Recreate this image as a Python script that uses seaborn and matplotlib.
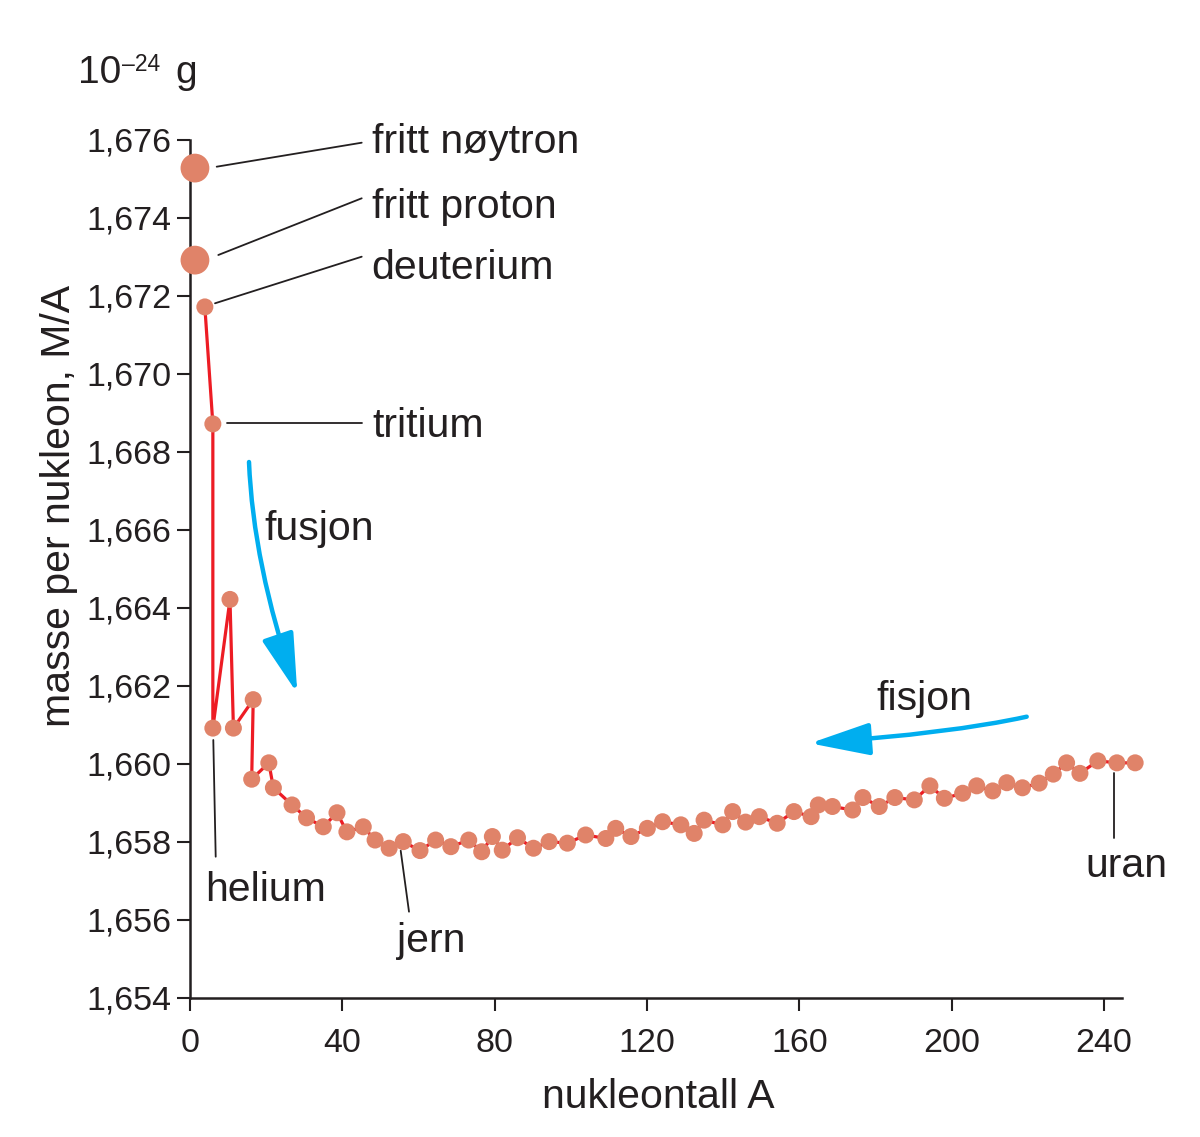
import numpy as np
import pandas as pd
import seaborn as sns
import matplotlib.pyplot as plt
from matplotlib.patches import FancyArrowPatch, ArrowStyle
from matplotlib.path import Path
from matplotlib.lines import Line2D

# mass per nucleon (10^-24 g) against nucleon number A
free_A = [1.3, 1.3]
free_mass = [1.67528, 1.67292]

chain_A = [3.9, 6.0, 6.0, 10.5, 11.4, 16.6, 16.2, 20.7, 21.9, 26.8,
           30.6, 35.0, 38.6, 41.2, 45.5, 48.6, 52.3, 56.0, 60.4, 64.5,
           68.5, 73.2, 76.6, 79.4, 82.0, 86.0, 90.2, 94.3, 99.1, 103.9,
           109.2, 111.8, 115.8, 120.1, 124.1, 128.9, 132.4, 135.0, 139.9, 142.5,
           145.9, 149.5, 154.2, 158.6, 163.1, 165.0, 168.7, 174.0, 176.7, 181.0,
           185.1, 190.2, 194.3, 198.1, 202.9, 206.6, 210.8, 214.5, 218.6, 223.0,
           226.7, 230.2, 233.7, 238.4, 243.4, 248.2]
chain_mass = [1.67172, 1.66872, 1.66092, 1.66422, 1.66092, 1.66165, 1.65961, 1.66003, 1.65939, 1.65895,
              1.65862, 1.65839, 1.65875, 1.65826, 1.65839, 1.65805, 1.65784, 1.65801, 1.65778, 1.65805,
              1.65788, 1.65805, 1.65775, 1.65814, 1.65779, 1.65811, 1.65784, 1.65801, 1.65797, 1.65818,
              1.65809, 1.65835, 1.65814, 1.65835, 1.65852, 1.65844, 1.65822, 1.65856, 1.65844, 1.65878,
              1.65851, 1.65865, 1.65848, 1.65878, 1.65865, 1.65895, 1.65891, 1.65882, 1.65914, 1.65891,
              1.65914, 1.65908, 1.65944, 1.65912, 1.65925, 1.65944, 1.65931, 1.65952, 1.65939, 1.65951,
              1.65974, 1.66003, 1.65976, 1.66008, 1.66003, 1.66003]

x_ticks = [0, 40, 80, 120, 160, 200, 240]
y_ticks = [1.654, 1.656, 1.658, 1.660, 1.662, 1.664, 1.666, 1.668, 1.670, 1.672, 1.674, 1.676]
y_tick_labels = ["1,654", "1,656", "1,658", "1,660", "1,662", "1,664",
                 "1,666", "1,668", "1,670", "1,672", "1,674", "1,676"]

RED = "#ED1C24"
DOT = "#E08369"
BLUE = "#00AEEF"
DARK = "#231F20"

W, H = 1200, 1137


def fx(x):
    return x / W


def fy(y):
    return 1 - y / H


sns.set_style("ticks")
plt.rcParams['font.family'] = ['Liberation Sans', 'DejaVu Sans']
plt.rcParams['text.color'] = DARK

fig = plt.figure(figsize=(12, 11.37), dpi=100)
ax = fig.add_axes([fx(190), fy(998), (1122 - 190) / W, (998 - 140) / H])

chain = pd.DataFrame({"A": chain_A, "M": chain_mass})
free = pd.DataFrame({"A": free_A, "M": free_mass})

sns.lineplot(data=chain, x="A", y="M", sort=False, estimator=None,
             color=RED, lw=2.3, ax=ax, clip_on=False, zorder=2)
sns.scatterplot(data=chain, x="A", y="M", s=150, color=DOT, edgecolor="none",
                ax=ax, clip_on=False, zorder=3)
sns.scatterplot(data=free, x="A", y="M", s=430, color=DOT, edgecolor="none",
                ax=ax, clip_on=False, zorder=3)

ax.set_xlim(0, 932 / 3.808)
ax.set_ylim(1.654, 1.676)
ax.set_xticks(x_ticks)
ax.set_yticks(y_ticks, y_tick_labels)
ax.set_xlabel("")
ax.set_ylabel("")
sns.despine(ax=ax)
for side in ["left", "bottom"]:
    ax.spines[side].set_linewidth(1.8)
    ax.spines[side].set_color(DARK)
ax.tick_params(direction="out", length=9.5, width=1.5, labelsize=24.5,
               colors=DARK, labelcolor=DARK)
ax.tick_params(axis="x", pad=12)
ax.tick_params(axis="y", pad=4)

# axis titles
fig.text(fx(658), fy(1108), "nukleontall A", fontsize=29.5, ha="center", va="baseline")
fig.text(fx(59), fy(506), "masse per nukleon, M/A", fontsize=29.5, rotation=90,
         ha="center", va="center")
fig.text(fx(77.5), fy(83.3), "10", fontsize=28, ha="left", va="baseline")
fig.text(fx(121.5), fy(71), "–24", fontsize=16.5, ha="left", va="baseline")
fig.text(fx(175.5), fy(83.3), "g", fontsize=28, ha="left", va="baseline")

# labels with leader lines
labels = [("fritt nøytron", 372, 153), ("fritt proton", 372, 218),
          ("deuterium", 371, 279), ("tritium", 372, 437),
          ("helium", 205.5, 901), ("jern", 397, 952), ("uran", 1085, 877),
          ("fusjon", 264, 540), ("fisjon", 876, 710)]
for txt, x, y in labels:
    fig.text(fx(x), fy(y), txt, fontsize=29.5, ha="left", va="baseline")

leaders = [((216.7, 166.7), (361.7, 142.7)), ((218.3, 255), (361.7, 198.3)),
           ((215, 303.3), (361.7, 256.7)), ((226.7, 423.3), (361.7, 423.3)),
           ((213.3, 740), (215.7, 856.7)), ((400.7, 850.7), (409, 911.7)),
           ((1114.3, 773.3), (1114.3, 838.3))]
for (x0, y0), (x1, y1) in leaders:
    fig.add_artist(Line2D([fx(x0), fx(x1)], [fy(y0), fy(y1)],
                          transform=fig.transFigure, color=DARK, lw=1.3))

# curved arrows
arrows = [[(249, 462), (253, 563), (297.3, 693.3)],
          [(1026.7, 716.7), (950.7, 733.4), (810, 743.3)]]
for pts in arrows:
    p = Path([(fx(a), fy(b)) for a, b in pts], [Path.MOVETO, Path.CURVE3, Path.CURVE3])
    arr = FancyArrowPatch(path=p, arrowstyle=ArrowStyle("-|>", head_length=37, head_width=10),
                          mutation_scale=1, lw=3.2, color=BLUE,
                          transform=fig.transFigure, capstyle="round")
    fig.add_artist(arr)

fig.savefig("out.png", dpi=100)
